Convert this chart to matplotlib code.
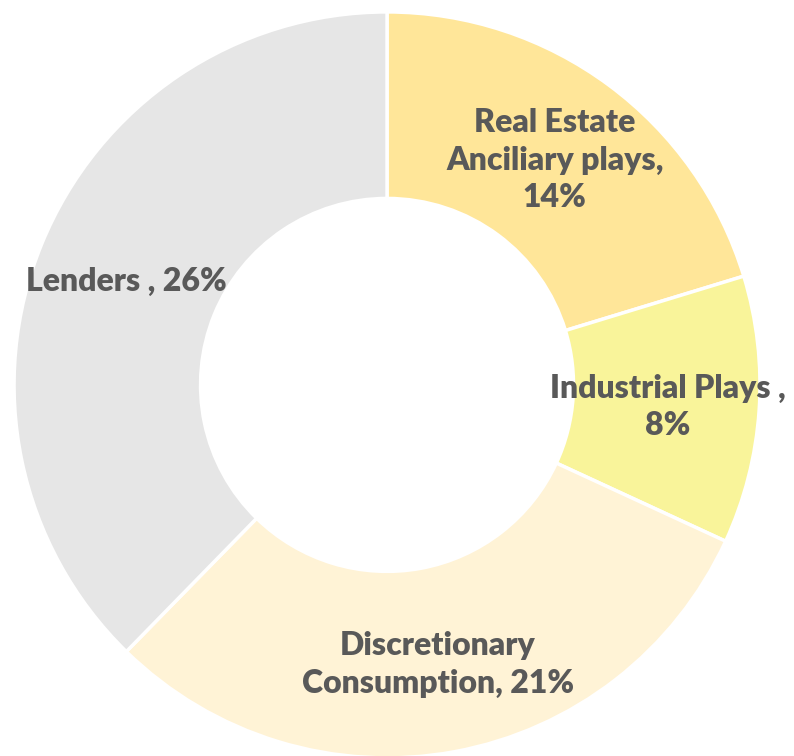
import matplotlib
matplotlib.use("Agg")
import matplotlib.pyplot as plt

categories = ["Real Estate\nAnciliary plays,\n14%", "Industrial Plays ,\n8%",
              "Discretionary\nConsumption, 21%", "Lenders , 26%"]
values = [14, 8, 21, 26]
colors = ["#FFE699", "#F9F49A", "#FFF3D6", "#E6E6E6"]
label_pos = [(0.45, 0.603), (0.753, -0.059), (0.137, -0.75), (-0.70, 0.276)]

fig = plt.figure(figsize=(7.94, 7.56), dpi=100)
ax = fig.add_axes([0, 0, 1, 1])
ax.pie(values, colors=colors, startangle=90, counterclock=False,
       wedgeprops=dict(width=0.5, edgecolor="white", linewidth=2.5))
for lab, (x, y) in zip(categories, label_pos):
    ax.text(x, y, lab, ha="center", va="center", fontsize=23, fontweight="heavy",
            family="Lato", color="#595959", linespacing=1.35)
ax.set_xlim(-1.0375, 1.091)
ax.set_ylim(-0.995, 1.032)
ax.set_aspect("equal")
ax.axis("off")
fig.savefig("out.png", dpi=100)
